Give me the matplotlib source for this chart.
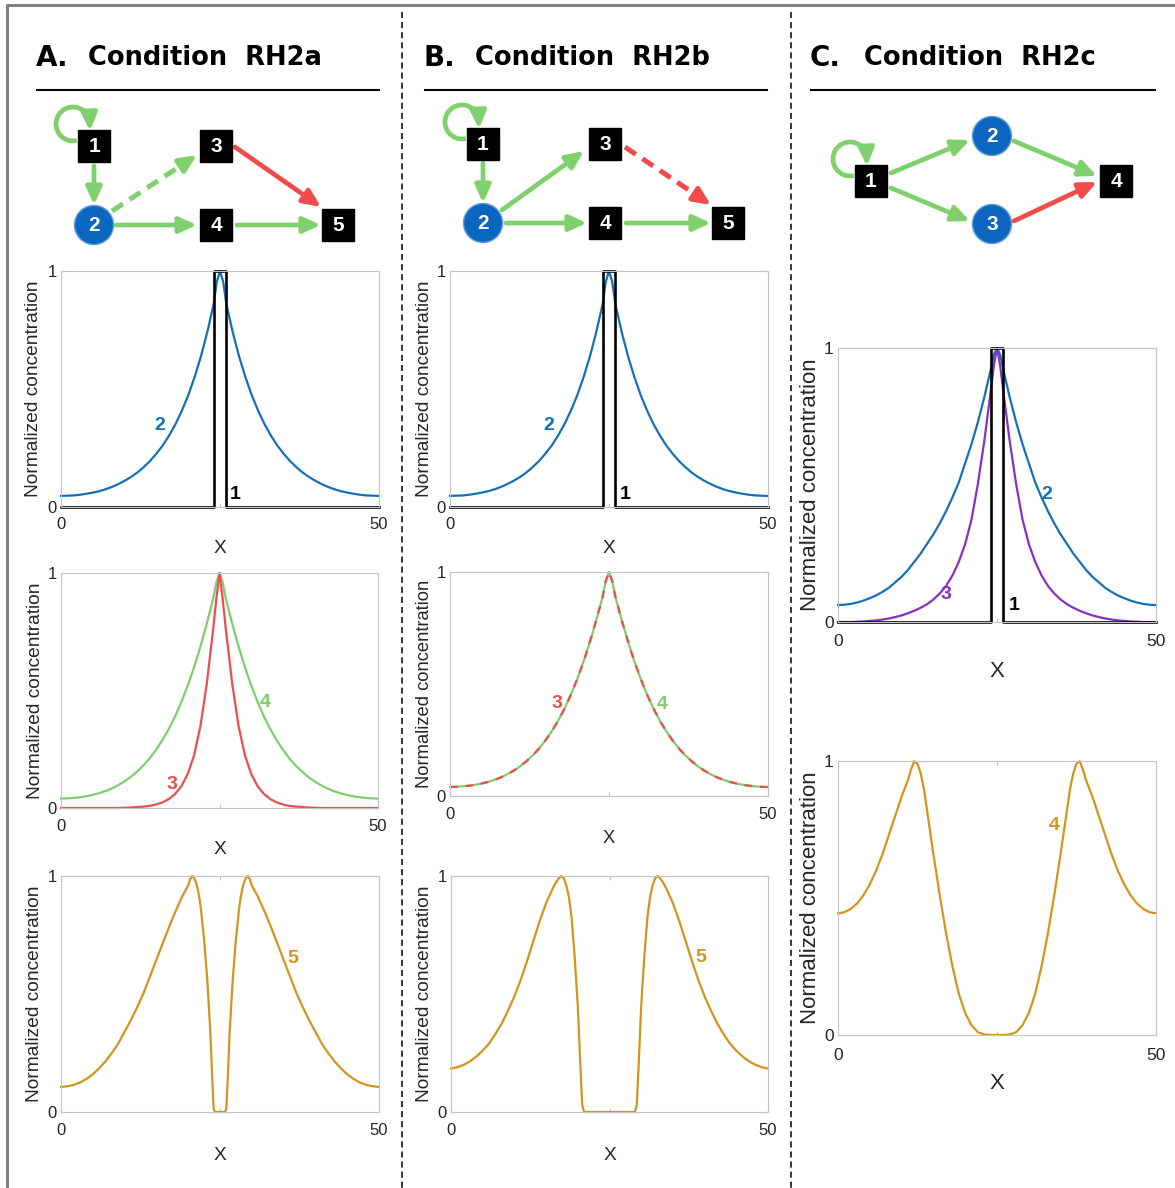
import matplotlib
matplotlib.use("Agg")
import matplotlib.pyplot as plt
from matplotlib.patches import Rectangle, Circle, Arc, FancyArrowPatch

# ---------------- data ----------------
X_GRID = [0, 1, 2, 3, 4, 5, 6, 7, 8, 9, 10, 11, 12, 13, 14, 15, 16, 17, 18, 19, 20, 21, 22, 23, 24,
          24.5, 25, 25.5,
          26, 27, 28, 29, 30, 31, 32, 33, 34, 35, 36, 37, 38, 39, 40, 41, 42, 43, 44, 45, 46, 47, 48, 49, 50]

# species 1 (source, step)
X_STEP = [0, 24, 24, 26, 26, 50]
Y_STEP = [0, 0, 1, 1, 0, 0]

# species 2 in A and B
Y2_AB = [0.047, 0.048, 0.049, 0.052, 0.056, 0.061, 0.067, 0.075, 0.085, 0.097, 0.111, 0.127, 0.146,
         0.169, 0.195, 0.226, 0.261, 0.303, 0.351, 0.408, 0.473, 0.550, 0.638, 0.741, 0.860,
         0.955, 1.0, 0.955,
         0.860, 0.741, 0.638, 0.550, 0.473, 0.408, 0.351, 0.303, 0.261, 0.226, 0.195, 0.169, 0.146,
         0.127, 0.111, 0.097, 0.085, 0.075, 0.067, 0.061, 0.056, 0.052, 0.049, 0.048, 0.047]

# species 3 in A
Y3_A = [0, 0, 0, 0, 0, 0, 0, 0, 0, 0, 0.001, 0.002, 0.004, 0.006, 0.009, 0.015, 0.024, 0.038,
        0.060, 0.093, 0.145, 0.225, 0.350, 0.530, 0.760,
        0.89, 1.0, 0.89,
        0.760, 0.530, 0.350, 0.225, 0.145, 0.093, 0.060, 0.038, 0.024, 0.015, 0.009, 0.006, 0.004,
        0.002, 0.001, 0, 0, 0, 0, 0, 0, 0, 0, 0, 0]

# species 4 in A, species 3 and 4 in B
Y4_AB = [0.040, 0.041, 0.043, 0.046, 0.050, 0.056, 0.063, 0.072, 0.083, 0.097, 0.113, 0.132, 0.155,
         0.181, 0.212, 0.248, 0.289, 0.336, 0.390, 0.452, 0.522, 0.600, 0.688, 0.785, 0.890,
         0.96, 1.0, 0.96,
         0.890, 0.785, 0.688, 0.600, 0.522, 0.452, 0.390, 0.336, 0.289, 0.248, 0.212, 0.181, 0.155,
         0.132, 0.113, 0.097, 0.083, 0.072, 0.063, 0.056, 0.050, 0.046, 0.043, 0.041, 0.040]

# species 5 in A
X5_A = [0, 1, 2, 3, 4, 5, 6, 7, 8, 9, 10, 11, 12, 13, 14, 15, 16, 17, 18, 19, 20, 20.3, 20.6,
        20.9, 21.2, 21.5, 21.8, 22, 22.5, 23, 23.5, 23.8, 24.0, 24.2, 25,
        25.8, 26.0, 26.2, 26.5, 27, 27.5, 28, 28.2, 28.5, 28.8, 29.1, 29.4, 29.7, 30,
        31, 32, 33, 34, 35, 36, 37, 38, 39, 40, 41, 42, 43, 44, 45, 46, 47, 48, 49, 50]
Y5_A = [0.106, 0.109, 0.115, 0.125, 0.14, 0.16, 0.185, 0.215, 0.25, 0.29, 0.34, 0.39, 0.445, 0.505,
        0.575, 0.645, 0.715, 0.785, 0.85, 0.91, 0.96, 0.985, 1.0,
        0.993, 0.975, 0.945, 0.90, 0.86, 0.73, 0.56, 0.33, 0.13, 0.015, 0.0, 0.0,
        0.0, 0.015, 0.13, 0.33, 0.56, 0.73, 0.86, 0.90, 0.945, 0.975, 0.993, 1.0, 0.985, 0.96,
        0.91, 0.85, 0.785, 0.715, 0.645, 0.575, 0.505, 0.445, 0.39, 0.34, 0.29, 0.25, 0.215, 0.185,
        0.16, 0.14, 0.125, 0.115, 0.109, 0.106]

# species 5 in B
X5_B = [0, 1, 2, 3, 4, 5, 6, 7, 8, 9, 10, 11, 12, 13, 14, 15, 16, 16.5, 17, 17.4, 17.8, 18.2,
        18.6, 19, 19.5, 20, 20.4, 20.7, 21, 25,
        29, 29.3, 29.6, 30, 30.5, 31, 31.4, 31.8, 32.2, 32.6, 33, 33.5, 34,
        35, 36, 37, 38, 39, 40, 41, 42, 43, 44, 45, 46, 47, 48, 49, 50]
Y5_B = [0.184, 0.19, 0.20, 0.215, 0.235, 0.26, 0.29, 0.33, 0.375, 0.43, 0.49, 0.56, 0.64, 0.725,
        0.81, 0.885, 0.945, 0.97, 0.99, 1.0, 0.99, 0.96, 0.91, 0.83, 0.66, 0.45, 0.2, 0.03, 0.0, 0.0,
        0.0, 0.03, 0.2, 0.45, 0.66, 0.83, 0.91, 0.96, 0.99, 1.0, 0.99, 0.97, 0.945,
        0.885, 0.81, 0.725, 0.64, 0.56, 0.49, 0.43, 0.375, 0.33, 0.29, 0.26, 0.235, 0.215, 0.20,
        0.19, 0.184]

# species 2 and 3 in C
Y2_C = [0.062, 0.063, 0.066, 0.071, 0.078, 0.087, 0.097, 0.110, 0.125, 0.145, 0.165, 0.190, 0.220,
        0.250, 0.285, 0.320, 0.360, 0.405, 0.455, 0.510, 0.580, 0.650, 0.730, 0.820, 0.920,
        0.975, 1.0, 0.975,
        0.920, 0.820, 0.730, 0.650, 0.580, 0.510, 0.455, 0.405, 0.360, 0.320, 0.285, 0.250, 0.220,
        0.190, 0.165, 0.145, 0.125, 0.110, 0.097, 0.087, 0.078, 0.071, 0.066, 0.063, 0.062]
Y3_C = [0, 0, 0, 0.001, 0.002, 0.004, 0.006, 0.009, 0.013, 0.018, 0.024, 0.032, 0.041, 0.052,
        0.065, 0.082, 0.104, 0.132, 0.170, 0.220, 0.285, 0.375, 0.505, 0.660, 0.840,
        0.935, 1.0, 0.935,
        0.840, 0.660, 0.505, 0.375, 0.285, 0.220, 0.170, 0.132, 0.104, 0.082, 0.065, 0.052, 0.041,
        0.032, 0.024, 0.018, 0.013, 0.009, 0.006, 0.004, 0.002, 0.001, 0, 0, 0]

# species 4 in C
X4_C = [0, 1, 2, 3, 4, 5, 6, 7, 8, 9, 10, 11, 11.5, 12, 12.5, 13, 13.5, 14, 15, 16, 17, 18, 19,
        20, 21, 22, 23, 24, 25, 26, 27, 28, 29, 30, 31, 32, 33, 34, 35, 36, 36.5, 37, 37.5, 38,
        38.5, 39, 40, 41, 42, 43, 44, 45, 46, 47, 48, 49, 50]
Y4_C = [0.444, 0.448, 0.46, 0.48, 0.51, 0.55, 0.60, 0.66, 0.73, 0.80, 0.87, 0.93, 0.97, 1.0, 0.99,
        0.955, 0.90, 0.82, 0.66, 0.51, 0.37, 0.25, 0.15, 0.08, 0.035, 0.01, 0.002, 0.0, 0.0,
        0.0, 0.002, 0.01, 0.035, 0.08, 0.15, 0.25, 0.37, 0.51, 0.66, 0.82, 0.90, 0.955, 0.99, 1.0,
        0.97, 0.93, 0.87, 0.80, 0.73, 0.66, 0.60, 0.55, 0.51, 0.48, 0.46, 0.448, 0.444]

X_TICKS = [0, 25, 50]
X_TICKLABELS = ["0", "", "50"]
Y_TICKS = [0, 1]
Y_TICKLABELS = ["0", "1"]
TITLES = [("A.", "Condition  RH2a"), ("B.", "Condition  RH2b"), ("C.", "Condition  RH2c")]

# ---------------- styles ----------------
BLUE = "#1570B8"
GREEN = "#7ECF6C"
RED = "#EE4D4D"
PURPLE = "#8630C4"
ORANGE = "#D3941E"
NODE_BLUE = "#0B66BF"
ARROW_GREEN = "#80D06E"
ARROW_RED = "#F04B4B"
TXT = "#262626"
SPINE = "#c4c4c4"
LABEL_FONT = "Liberation Sans"

W, H = 1175, 1188
fig = plt.figure(figsize=(W / 100, H / 100), dpi=100)
fig.patch.set_facecolor("white")

# overlay for decorations / network sketches (1 unit = 1 pixel, y up)
ov = fig.add_axes([0, 0, 1, 1], zorder=0)
ov.set_xlim(0, W)
ov.set_ylim(0, H)
ov.axis("off")


def Y(y):
    return H - y


# border and separators
ov.plot([7, 7, W + 5], [Y(H + 5), Y(5), Y(5)], color="#7f7f7f", lw=2.2, solid_capstyle="butt")
for xs in (402, 791):
    ov.plot([xs, xs], [Y(12), Y(H)], color="black", lw=1.1, dashes=(4, 2.6))

# titles
TITLE_X = [(37, 88, 379), (425, 475, 767), (811, 864, 1155)]
for (lab, txt), (xl, xt, xr) in zip(TITLES, TITLE_X):
    ov.text(xl - 1, Y(58), lab, fontsize=20, fontweight="bold", family="DejaVu Sans",
            ha="left", va="center", color="black")
    ov.text(xt, Y(58), txt, fontsize=18.5, fontweight="bold", family="DejaVu Sans",
            ha="left", va="center", color="black")
    ov.plot([xl, xr], [Y(90), Y(90)], color="black", lw=1.5)

ARROW_STYLE = "-|>,head_length=0.8,head_width=0.36"


def arrow(p0, p1, color, dashed=False):
    x0, y0 = p0[0], Y(p0[1])
    x1, y1 = p1[0], Y(p1[1])
    if dashed:
        dx, dy = x1 - x0, y1 - y0
        L = (dx ** 2 + dy ** 2) ** 0.5
        ux, uy = dx / L, dy / L
        bx, by = x1 - 14 * ux, y1 - 14 * uy
        ov.plot([x0, bx], [y0, by], color=color, lw=3.6, dashes=(2.6, 1.6),
                dash_capstyle="butt")
        a = FancyArrowPatch((bx - 2 * ux, by - 2 * uy), (x1, y1), arrowstyle=ARROW_STYLE,
                            mutation_scale=13, color=color, lw=3.4, shrinkA=0, shrinkB=0)
    else:
        a = FancyArrowPatch((x0, y0), (x1, y1), arrowstyle=ARROW_STYLE, mutation_scale=13,
                            color=color, lw=3.4, shrinkA=0, shrinkB=0)
    ov.add_patch(a)


def selfloop(cx, cy):
    r = 17
    ov.add_patch(Arc((cx, Y(cy)), 2 * r, 2 * r, theta1=15, theta2=283, color=ARROW_GREEN, lw=3.4))
    a = FancyArrowPatch((cx + 16.5, Y(cy) + 5), (cx + 17, Y(cy) - 7),
                        arrowstyle=ARROW_STYLE, mutation_scale=13,
                        color=ARROW_GREEN, lw=3.4, shrinkA=0, shrinkB=0)
    ov.add_patch(a)


def node(x, y, label, kind):
    if kind == "sq":
        ov.add_patch(Rectangle((x - 16, Y(y) - 16), 32, 32, fc="black", ec="black", zorder=5))
    else:
        ov.add_patch(Circle((x, Y(y)), 19.5, fc=NODE_BLUE, ec="#5b9be0", lw=1.0, zorder=5))
    ov.text(x, Y(y) - 0.5, label, color="white", fontsize=15, fontweight="bold", family=LABEL_FONT,
            ha="center", va="center", zorder=6)


# network A
selfloop(73, 124)
arrow((94, 166), (94, 205), ARROW_GREEN)
arrow((112, 211), (197, 155), ARROW_GREEN, dashed=True)
arrow((116, 225), (197, 225), ARROW_GREEN)
arrow((237, 225), (321, 225), ARROW_GREEN)
arrow((235, 147), (321, 207), ARROW_RED)
for lbl, (x, y, k) in {"1": (94, 146, "sq"), "2": (94, 225, "ci"), "3": (216, 146, "sq"),
                       "4": (216, 225, "sq"), "5": (338, 225, "sq")}.items():
    node(x, y, lbl, k)

# network B
selfloop(462, 122)
arrow((483, 163), (483, 203), ARROW_GREEN)
arrow((502, 210), (584, 151), ARROW_GREEN)
arrow((506, 223), (587, 223), ARROW_GREEN)
arrow((626, 223), (711, 223), ARROW_GREEN)
arrow((625, 147), (711, 205), ARROW_RED, dashed=True)
for lbl, (x, y, k) in {"1": (483, 144, "sq"), "2": (483, 223, "ci"), "3": (605, 144, "sq"),
                       "4": (605, 223, "sq"), "5": (728, 223, "sq")}.items():
    node(x, y, lbl, k)

# network C
selfloop(850, 159)
arrow((891, 173), (970, 140), ARROW_GREEN)
arrow((891, 188), (970, 221), ARROW_GREEN)
arrow((1014, 141), (1097, 176), ARROW_GREEN)
arrow((1014, 221), (1097, 182), ARROW_RED)
for lbl, (x, y, k) in {"1": (871, 181, "sq"), "2": (992, 136, "ci"), "3": (992, 224, "ci"),
                       "4": (1116, 181, "sq")}.items():
    node(x, y, lbl, k)


# ---------------- plots ----------------
def make_ax(x0, yt, x1, yb, ylab_x, xlab_y, fs_lab, fs_tick, xpad):
    ax = fig.add_axes([x0 / W, 1 - yb / H, (x1 - x0) / W, (yb - yt) / H], zorder=2)
    ax.set_xlim(0, 50)
    ax.set_ylim(0, 1)
    ax.set_xticks(X_TICKS)
    ax.set_xticklabels(X_TICKLABELS)
    ax.set_yticks(Y_TICKS)
    ax.set_yticklabels(Y_TICKLABELS)
    ax.tick_params(direction="in", length=3, width=0.8, color=SPINE, labelsize=fs_tick,
                   labelcolor=TXT, top=True, right=True)
    ax.tick_params(axis="x", pad=xpad)
    ax.tick_params(axis="y", pad=3)
    for lab in ax.get_xticklabels() + ax.get_yticklabels():
        lab.set_family(LABEL_FONT)
    for sp in ax.spines.values():
        sp.set_color(SPINE)
        sp.set_linewidth(0.8)
    ax.set_ylabel("Normalized concentration", fontsize=fs_lab, color=TXT, family=LABEL_FONT)
    ax.yaxis.set_label_coords(ylab_x, 0.5)
    ax.set_xlabel("X", fontsize=fs_lab, color=TXT, family=LABEL_FONT)
    ax.xaxis.set_label_coords(0.5, xlab_y)
    return ax


def lbl(ax, x, y, s, c, fs=14):
    ax.text(x, y, s, color=c, fontsize=fs, fontweight="bold", family=LABEL_FONT,
            ha="center", va="center")


LW = 1.6

# A top
ax = make_ax(61, 271, 379, 507, -0.060, -0.140, 13.8, 12, 7)
ax.plot(X_GRID, Y2_AB, color=BLUE, lw=LW, clip_on=False)
ax.plot(X_STEP, Y_STEP, color="black", lw=1.9, clip_on=False)
lbl(ax, 15.6, 0.347, "2", BLUE)
lbl(ax, 27.4, 0.055, "1", "black")

# A mid
ax = make_ax(61, 573, 378, 808, -0.054, -0.139, 13.8, 12, 8)
ax.plot(X_GRID, Y4_AB, color=GREEN, lw=LW, clip_on=False)
ax.plot(X_GRID, Y3_A, color=RED, lw=LW, clip_on=False)
lbl(ax, 17.5, 0.098, "3", RED)
lbl(ax, 32.2, 0.447, "4", GREEN)

# A bottom
ax = make_ax(61, 876, 379, 1112, -0.057, -0.148, 13.8, 12, 8)
ax.plot(X5_A, Y5_A, color=ORANGE, lw=LW, clip_on=False)
lbl(ax, 36.5, 0.651, "5", ORANGE)

# B top
ax = make_ax(450, 271, 768, 507, -0.053, -0.140, 13.8, 12, 7)
ax.plot(X_GRID, Y2_AB, color=BLUE, lw=LW, clip_on=False)
ax.plot(X_STEP, Y_STEP, color="black", lw=1.9, clip_on=False)
lbl(ax, 15.6, 0.347, "2", BLUE)
lbl(ax, 27.5, 0.055, "1", "black")

# B mid
ax = make_ax(450, 572, 768, 796, -0.053, -0.152, 13.2, 12, 8)
ax.plot(X_GRID, Y4_AB, color=GREEN, lw=LW, clip_on=False)
ax.plot(X_GRID, Y4_AB, color=RED, lw=LW, dashes=(3.5, 3.5), clip_on=False)
lbl(ax, 16.8, 0.415, "3", RED)
lbl(ax, 33.3, 0.41, "4", GREEN)

# B bottom
ax = make_ax(451, 876, 768, 1112, -0.056, -0.148, 13.8, 12, 8)
ax.plot(X5_B, Y5_B, color=ORANGE, lw=LW, clip_on=False)
lbl(ax, 39.4, 0.655, "5", ORANGE)

# C top
ax = make_ax(838, 348, 1156, 622, -0.053, -0.143, 16, 12.5, 9)
ax.plot(X_GRID, Y2_C, color=BLUE, lw=LW, clip_on=False)
ax.plot(X_GRID, Y3_C, color=PURPLE, lw=LW, clip_on=False)
ax.plot(X_STEP, Y_STEP, color="black", lw=1.9, clip_on=False)
lbl(ax, 32.9, 0.464, "2", BLUE)
lbl(ax, 17.0, 0.099, "3", PURPLE)
lbl(ax, 27.7, 0.059, "1", "black")

# C bottom
ax = make_ax(838, 761, 1156, 1035, -0.053, -0.139, 16, 12.5, 9)
ax.plot(X4_C, Y4_C, color=ORANGE, lw=LW, clip_on=False)
lbl(ax, 34.0, 0.763, "4", ORANGE)

fig.savefig("out.png", dpi=100, facecolor="white")
